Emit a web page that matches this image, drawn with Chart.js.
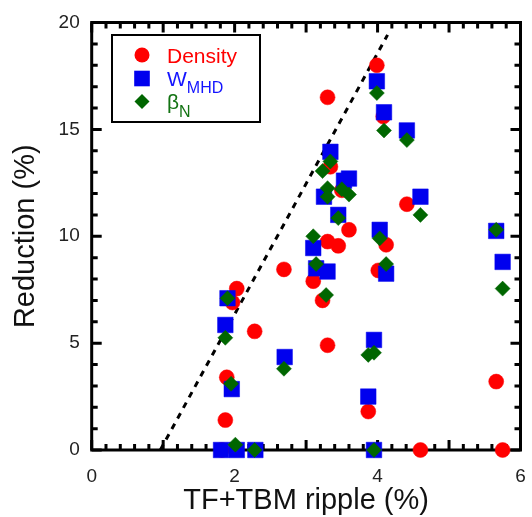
<!DOCTYPE html>
<html>
<head>
<meta charset="utf-8">
<script src="https://cdn.jsdelivr.net/npm/chart.js@4/dist/chart.umd.min.js"></script>
<style>
  html, body { margin: 0; padding: 0; background: #fff; }
  #wrap { width: 532px; height: 517px; }
</style>
</head>
<body>
<div id="wrap"><canvas id="ripple" width="532" height="517"></canvas></div>
<script>
// values: x = TF+TBM ripple (%), y = reduction (%)
const densityX = [1.82, 1.87, 1.89, 1.97, 2.03, 2.28, 2.69, 3.10, 3.23, 3.30, 3.30, 3.30, 3.34,
                  3.45, 3.50, 3.60, 3.87, 3.99, 4.01, 4.08, 4.12, 4.41, 4.60, 5.66, 5.75];
const densityY = [0.0, 1.4, 3.4, 6.9, 7.55, 5.55, 8.45, 7.9, 7.0, 4.9, 16.5, 9.75, 13.25,
                  9.55, 12.15, 10.3, 1.8, 18.0, 8.4, 15.6, 9.6, 11.5, 0.0, 3.2, 0.0];

const wmhdX = [1.81, 1.87, 1.90, 1.96, 2.03, 2.29, 2.70, 3.10, 3.14, 3.25, 3.30, 3.34, 3.45,
               3.53, 3.60, 3.87, 3.95, 3.95, 3.99, 4.03, 4.09, 4.12, 4.41, 4.60, 5.66, 5.75];
const wmhdY = [0.0, 5.85, 7.1, 2.85, 0.0, 0.0, 4.35, 9.45, 8.5, 11.85, 8.35, 13.95, 11.0,
               12.6, 12.7, 2.5, 5.15, 0.0, 17.25, 10.3, 15.8, 8.25, 14.95, 11.85, 10.25, 8.8];

const betaX = [1.87, 1.90, 1.95, 2.01, 2.28, 2.69, 3.10, 3.14, 3.23, 3.28, 3.30, 3.30, 3.34, 3.45,
               3.50, 3.60, 3.87, 3.95, 3.95, 3.99, 4.03, 4.09, 4.12, 4.41, 4.60, 5.66, 5.75];
const betaY = [5.25, 7.1, 3.1, 0.25, 0.0, 3.8, 10.0, 8.7, 13.05, 7.25, 12.25, 11.85, 13.5, 10.85,
               12.2, 11.95, 4.45, 4.55, 0.0, 16.7, 9.9, 14.95, 8.7, 14.5, 11.0, 10.3, 7.55];

// dashed guide line
const guideX = [0.96, 4.14];
const guideY = [0, 19.42];

const xTickLabels = ['0', '2', '4', '6'];
const yTickLabels = ['0', '5', '10', '15', '20'];

const pts = (xs, ys) => xs.map((x, i) => ({ x, y: ys[i] }));

const FONT = "'Liberation Sans', Arial, sans-serif";

// box around the plot with inward ticks on all four sides (under the markers)
const framePlugin = {
  id: 'frame',
  beforeDatasetsDraw(chart) {
    const ctx = chart.ctx;
    const area = chart.chartArea;
    const sx = chart.scales.x;
    const sy = chart.scales.y;
    ctx.save();
    ctx.setLineDash([]);
    ctx.strokeStyle = '#000';
    ctx.lineWidth = 3;
    ctx.beginPath();
    for (let i = 0; i <= 30; i++) {
      const px = sx.getPixelForValue(i / 5);
      const len = i % 5 === 0 ? 10 : 6;
      ctx.moveTo(px, area.bottom);
      ctx.lineTo(px, area.bottom - len);
      ctx.moveTo(px, area.top);
      ctx.lineTo(px, area.top + len);
    }
    for (let v = 0; v <= 20; v++) {
      const py = sy.getPixelForValue(v);
      const len = v % 5 === 0 ? 10 : 6;
      ctx.moveTo(area.left, py);
      ctx.lineTo(area.left + len, py);
      ctx.moveTo(area.right, py);
      ctx.lineTo(area.right - len, py);
    }
    ctx.stroke();
    ctx.strokeRect(area.left, area.top, area.right - area.left, area.bottom - area.top);
    ctx.restore();
  },
};

// legend with subscripts, drawn by hand
const legendPlugin = {
  id: 'subLegend',
  afterDraw(chart) {
    const { ctx } = chart;
    ctx.save();
    ctx.setLineDash([]);
    ctx.fillStyle = '#fff';
    ctx.fillRect(112, 35, 148, 87);
    ctx.strokeStyle = '#000';
    ctx.lineWidth = 2;
    ctx.strokeRect(112, 35, 148, 87);

    const mx = 142;
    ctx.fillStyle = '#ff0000';
    ctx.beginPath(); ctx.arc(mx, 55, 7.5, 0, Math.PI * 2); ctx.fill();
    ctx.fillStyle = '#0000ee';
    ctx.fillRect(mx - 7.8, 78.5 - 7.8, 15.6, 15.6);
    ctx.fillStyle = '#006600';
    ctx.beginPath();
    ctx.moveTo(mx - 7.5, 101.5); ctx.lineTo(mx, 94); ctx.lineTo(mx + 7.5, 101.5); ctx.lineTo(mx, 109);
    ctx.closePath(); ctx.fill();

    ctx.textAlign = 'left';
    ctx.textBaseline = 'alphabetic';
    ctx.font = `21px ${FONT}`;
    ctx.fillStyle = '#ff0000';
    ctx.fillText('Density', 167, 62.5);

    ctx.fillStyle = '#1414ff';
    ctx.fillText('W', 167, 86);
    const wW = ctx.measureText('W').width;
    ctx.font = `16px ${FONT}`;
    ctx.fillText('MHD', 167 + wW, 92.5);

    ctx.font = `21px ${FONT}`;
    ctx.fillStyle = '#137313';
    ctx.fillText('β', 167, 109);
    const bW = ctx.measureText('β').width;
    ctx.font = `16px ${FONT}`;
    ctx.fillText('N', 167 + bW, 117);
    ctx.restore();
  },
};

const markerSet = (label, data, style, radius, color, order) => ({
  label,
  data,
  pointStyle: style,
  pointRadius: radius,
  pointHoverRadius: radius,
  pointBackgroundColor: color,
  pointBorderColor: color,
  pointBorderWidth: 0.5,
  showLine: false,
  clip: false,
  order,
});

new Chart(document.getElementById('ripple').getContext('2d'), {
  type: 'scatter',
  plugins: [framePlugin, legendPlugin],
  data: {
    datasets: [
      markerSet('Density', pts(densityX, densityY), 'circle', 7.5, '#ff0000', 3),
      markerSet('WMHD', pts(wmhdX, wmhdY), 'rect', 11, '#0000ee', 2),
      markerSet('βN', pts(betaX, betaY), 'rectRot', 7.5, '#006600', 1),
      {
        type: 'line',
        label: 'guide',
        data: pts(guideX, guideY),
        borderColor: '#000',
        borderWidth: 3,
        borderDash: [6, 6],
        pointRadius: 0,
        showLine: true,
        fill: false,
        order: 4,
      },
    ],
  },
  options: {
    responsive: false,
    animation: false,
    events: [],
    layout: { padding: { left: 0, right: 4, top: 22.5, bottom: 0 } },
    plugins: { legend: { display: false }, tooltip: { enabled: false } },
    scales: {
      x: {
        type: 'linear',
        min: 0,
        max: 6,
        grid: { display: false, drawTicks: false },
        border: { display: false },
        ticks: {
          stepSize: 2,
          padding: 15,
          color: '#222',
          font: { family: FONT, size: 19 },
          callback: (v) => xTickLabels[v / 2],
        },
        title: {
          display: true,
          text: 'TF+TBM ripple (%)',
          color: '#111',
          font: { family: FONT, size: 29 },
          padding: { top: 0, bottom: -1 },
        },
        afterFit(s) { s.height = 67; s.paddingLeft = 0; s.paddingRight = 0; },
      },
      y: {
        type: 'linear',
        min: 0,
        max: 20,
        grid: { display: false, drawTicks: false },
        border: { display: false },
        ticks: {
          stepSize: 5,
          padding: 12,
          color: '#222',
          font: { family: FONT, size: 19 },
          callback: (v) => yTickLabels[v / 5],
        },
        title: {
          display: true,
          text: 'Reduction (%)',
          color: '#111',
          font: { family: FONT, size: 29 },
          padding: { top: 9, bottom: 0 },
        },
        afterFit(s) { s.width = 91.7; s.paddingTop = 0; s.paddingBottom = 0; },
      },
    },
  },
});
</script>
</body>
</html>
